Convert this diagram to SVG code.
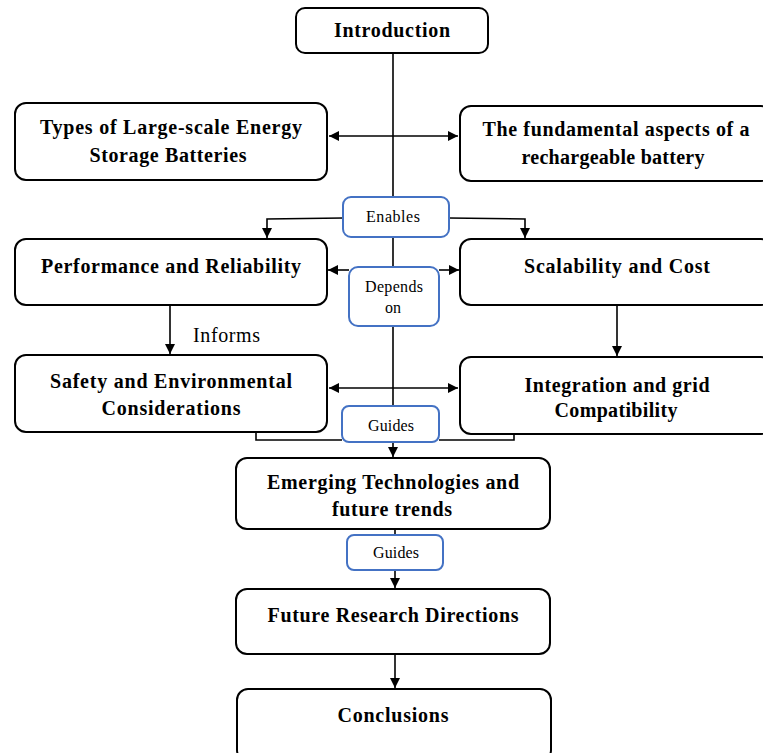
<svg xmlns="http://www.w3.org/2000/svg" width="763" height="753" viewBox="0 0 763 753">
  <defs>
    <marker id="arrow" viewBox="0 0 10 10" refX="10" refY="5" markerWidth="10" markerHeight="10" markerUnits="userSpaceOnUse" orient="auto-start-reverse">
      <path d="M0,0 L10,5 L0,10 z" fill="#000"/>
    </marker>
    <style>
      .box { fill: #fff; stroke: #000; stroke-width: 2; }
      .tag { fill: #fff; stroke: #4472c4; stroke-width: 2; }
      .title { font-family: "Liberation Serif", "Times New Roman", serif; font-weight: bold; font-size: 20px; text-anchor: middle; fill: #000; }
      .small { font-family: "Liberation Serif", "Times New Roman", serif; font-size: 16px; text-anchor: middle; fill: #000; }
      .note { font-family: "Liberation Serif", "Times New Roman", serif; font-size: 20px; fill: #000; }
      .line { fill: none; stroke: #000; stroke-width: 1.6; }
    </style>
  </defs>
  <rect width="763" height="753" fill="#fff"/>

  <!-- connectors -->
  <g id="connectors">
    <path class="line" d="M393,53 V406"/>
    <path class="line" d="M329,136 H458" marker-start="url(#arrow)" marker-end="url(#arrow)"/>
    <path class="line" d="M343,218 L267,219 V238" marker-end="url(#arrow)"/>
    <path class="line" d="M449,218 L525,219 V238" marker-end="url(#arrow)"/>
    <path class="line" d="M349,270 H328" marker-end="url(#arrow)"/>
    <path class="line" d="M439,270 H459" marker-end="url(#arrow)"/>
    <path class="line" d="M170,305 V354" marker-end="url(#arrow)"/>
    <path class="line" d="M617,305 V356" marker-end="url(#arrow)"/>
    <path class="line" d="M329,388 H458" marker-start="url(#arrow)" marker-end="url(#arrow)"/>
    <path class="line" d="M256,432 V440 H342"/>
    <path class="line" d="M439,440 H514 V434"/>
    <path class="line" d="M393,442 V457" marker-end="url(#arrow)"/>
    <path class="line" d="M395,529 V535"/>
    <path class="line" d="M395,570 V588" marker-end="url(#arrow)"/>
    <path class="line" d="M395,654 V688" marker-end="url(#arrow)"/>
    <text class="note" x="193" y="342" textLength="67">Informs</text>
  </g>

  <g id="introduction">
    <rect class="box" x="296" y="8" width="192" height="45" rx="9"/>
    <text class="title" x="392" y="37" textLength="116">Introduction</text>
  </g>

  <g id="types">
    <rect class="box" x="15" y="103" width="312" height="77" rx="11"/>
    <text class="title" x="171" y="134" textLength="262">Types of Large-scale Energy</text>
    <text class="title" x="168" y="162" textLength="157">Storage Batteries</text>
  </g>

  <g id="fundamentals">
    <rect class="box" x="460" y="106" width="312" height="75" rx="11"/>
    <text class="title" x="616" y="136" textLength="267">The fundamental aspects of a</text>
    <text class="title" x="613" y="164" textLength="183">rechargeable battery</text>
  </g>

  <g id="enables">
    <rect class="tag" x="343" y="197" width="106" height="40" rx="8"/>
    <text class="small" x="393" y="222" textLength="54">Enables</text>
  </g>

  <g id="performance">
    <rect class="box" x="15" y="239" width="312" height="66" rx="11"/>
    <text class="title" x="171" y="273" textLength="260">Performance and Reliability</text>
  </g>

  <g id="scalability">
    <rect class="box" x="460" y="239" width="312" height="66" rx="11"/>
    <text class="title" x="617" y="273" textLength="186">Scalability and Cost</text>
  </g>

  <g id="depends-on">
    <rect class="tag" x="349" y="267" width="90" height="59" rx="9"/>
    <text class="small" x="394" y="292" textLength="58">Depends</text>
    <text class="small" x="393" y="313">on</text>
  </g>

  <g id="safety">
    <rect class="box" x="15" y="355" width="312" height="77" rx="11"/>
    <text class="title" x="171" y="388" textLength="242">Safety and Environmental</text>
    <text class="title" x="171" y="415" textLength="139">Considerations</text>
  </g>

  <g id="integration">
    <rect class="box" x="460" y="357" width="312" height="77" rx="11"/>
    <text class="title" x="617" y="392" textLength="185">Integration and grid</text>
    <text class="title" x="616" y="417" textLength="123">Compatibility</text>
  </g>

  <g id="guides-1">
    <rect class="tag" x="342" y="406" width="97" height="36" rx="7"/>
    <text class="small" x="391" y="431" textLength="46">Guides</text>
  </g>

  <g id="emerging">
    <rect class="box" x="236" y="458" width="314" height="71" rx="11"/>
    <text class="title" x="393" y="489" textLength="252">Emerging Technologies and</text>
    <text class="title" x="392" y="516" textLength="120">future trends</text>
  </g>

  <g id="guides-2">
    <rect class="tag" x="347" y="535" width="96" height="35" rx="7"/>
    <text class="small" x="396" y="558" textLength="46">Guides</text>
  </g>

  <g id="future-research">
    <rect class="box" x="236" y="589" width="314" height="65" rx="11"/>
    <text class="title" x="393" y="622" textLength="251">Future Research Directions</text>
  </g>

  <g id="conclusions">
    <rect class="box" x="237" y="689" width="314" height="72" rx="11"/>
    <text class="title" x="393" y="722" textLength="111">Conclusions</text>
  </g>
</svg>
